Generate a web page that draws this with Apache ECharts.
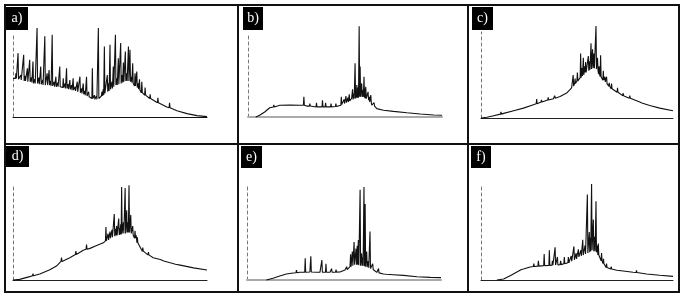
<!DOCTYPE html>
<html><head><meta charset="utf-8">
<script src="https://cdn.jsdelivr.net/npm/echarts@6/dist/echarts.min.js"></script>
<style>html,body{margin:0;padding:0;background:#fff}#c{width:686px;height:299px}</style>
</head><body><div id="c"></div><script>
// Panel labels
const panelLabels = ['a)', 'b)', 'c)', 'd)', 'e)', 'f)'];

// Each panel: smooth envelope [x, y] (x 0-100 along the axis, y 0-100 of axis height)
// and spikes [x, foot, peak]
const baseA = [[0,46],[3.4,44],[6.9,42],[10.3,40],[15.5,38],[20.7,37],[25.9,35],[31,32],[36.2,27],[39.7,23],[42.2,21],[44.8,24],[48.3,29],[51.7,36],[55.2,40],[57.8,44],[60.3,42],[62.9,37],[65.5,31],[69,25],[72.4,20],[75.9,15],[79.3,12],[84.5,7.5],[89.7,4],[94.8,1.6],[100,0.4]];
const spikesA = [[2.6,45,76],[5.5,43,74],[7.4,42,58],[8.6,42,68],[10.3,40,66],[12.4,40,106],[14.3,39,60],[16.4,38,96],[17.6,38,52],[18.6,38,56],[20.2,37,98],[22.1,36,48],[24.1,36,60],[25.9,35,46],[27.6,34,58],[29.3,33,44],[31,32,46],[33.1,30,42],[34.5,29,48],[36.2,27,40],[37.9,25,48],[40.9,22,58],[44,22,106],[47.1,28,84],[48.6,30,50],[50,33,86],[51.7,36,60],[52.8,38,98],[54.3,39,70],[55.5,40,88],[56.9,42,65],[57.9,43,78],[59.5,43,84],[60.3,42,80],[61.7,40,64],[62.9,37,52],[63.8,35,54],[65.2,32,45],[66.4,29,42],[68.1,26,35],[70.7,22,27],[74.7,17,23],[80.7,11,17],
  [1.5,46,52],[4,44,50],[6.2,43,49],[9.5,41,47],[11.2,40,45],[13.3,39,47],[15.3,38,44],[19.4,37,43],[21.2,36,42],[23,36,41],[26.8,34,40],[28.4,33,39],[30.2,32,38],[32,31,36],[35.3,28,34],[37,26,31],[39,24,30],[42,21,26],[43,21,25],[45.8,25,30],[46.5,26,33],[49.3,31,40],[51,34,42],[53.5,38,46],[56.3,41,50],[58.6,43,52],[61,41,48],[64.5,33,40]];

const baseB = [[4,0],[6,2],[8.6,6],[11.2,11],[13.8,12.7],[16.4,14],[21.6,14.3],[26.7,14],[30.2,13],[35.3,12],[40.5,12],[45.7,12.5],[48.3,15],[50.9,19],[53.4,22],[56,24],[58.6,24],[61.2,21],[63.8,14],[66.4,10],[69.8,8],[75,6.7],[81.9,5],[88.8,3.6],[95.7,2.4],[100,2]];
const spikesB = [[13.3,12,14.5],[28.8,14,24],[31.9,13,16],[35.3,12,17],[38.4,12,20],[40,12,17],[42.8,12,16],[45.3,12.5,16],[48.1,14,24],[50.5,17,25],[52.2,19,27],[53.9,21,33],[55.2,22,64],[56.1,23,38],[57.3,24,108],[57.8,24,60],[58.6,24,40],[59.8,23,48],[60.7,22,36],[61.9,20,30],[63.3,17,26],[65,13,17],
  [49.5,16,21],[51.5,18,23],[54.5,22,28],[55.7,23,30],[56.7,23,35],[59.2,24,32],[60.3,23,34],[62.5,18,24]];

const baseC = [[0,0],[3.1,0.8],[6.6,2.7],[11.8,5.4],[17,8.5],[22.1,11.5],[27.3,15.4],[32.5,19.2],[37.7,22.3],[41.2,25],[44.6,29],[47.2,35],[49.8,42],[52.4,48],[55,54],[57.6,58],[59.3,58],[61,53],[62.8,46],[65.4,40],[68.9,33],[72.3,28.5],[77.5,23],[82.7,18.5],[87.9,14.6],[93.1,11.5],[100,8.5]];
const spikesC = [[10.4,4.5,7],[29,16.5,22],[31.5,18.5,21],[35,21,24],[38.4,23,26],[48,37,50],[50.2,43,53],[51.9,47,75],[53.3,50,70],[54.5,53,65],[55.9,55,72],[57.3,57,87],[58.1,58,80],[58.8,58,75],[59.9,57,107],[60.7,55,70],[62.3,48,73],[63.7,44,55],[65.4,40,48],[68,34,40],[71.1,30,35],[77.5,23,26],
  [49,40,46],[52.6,49,58],[54,52,60],[56.5,56,66],[61.5,51,60],[64.5,42,48],[66.8,37,41],[74,26,29],[84,17.5,19.5]];

const baseD = [[0,0],[3.4,0.7],[8.6,3.6],[13.8,6.4],[19,11],[22.4,15],[25.9,21],[29.3,24],[32.8,28],[36.2,32],[39.7,34],[43.1,37],[46.6,40],[50,45],[53.4,48],[56.9,50],[59.5,51],[62.1,47],[64.7,38],[67.2,30],[70.7,26],[75.9,22],[81,18.5],[86.2,16],[93.1,13],[100,10.7]];
const spikesD = [[10.3,4.5,7],[25,20,24],[32.4,27.5,31],[37.9,33,38],[47.9,42,57],[50,45,52],[52.2,47,71],[53.4,48,58],[54.5,48.5,66],[55.5,49,60],[56,50,100],[56.9,50,62],[57.8,50,99],[58.6,51,75],[59.8,51,102],[60.7,50,70],[61.7,48,58],[62.9,45,53],[64.1,40,46],[66.9,31,35],[69.8,27,30],
  [49,43,50],[51,46,54],[53,47,55],[55,49,56],[59.2,51,62],[63.5,43,48],[72.5,24,26],[78,20.5,22.5],[84,17,19]];

const baseE = [[10,0],[13.4,1.8],[16.9,4.2],[20.3,6.3],[23.8,7.4],[27.2,8.1],[32.4,8.4],[37.6,8.1],[42.8,8.1],[47.9,8.4],[50.5,10.5],[53.1,14],[55.7,15.8],[58.3,15],[60.9,14],[63.4,12],[66.9,8],[70.3,6.3],[75.5,5.6],[80.7,4.9],[87.6,3.5],[94.5,2.8],[100,2.5]];
const spikesE = [[25.5,7.7,10.5],[30,8.2,23],[32.9,8.4,25],[36.2,8.2,9.5],[38.6,8.1,21],[40.7,8.1,17],[43.6,8.2,12],[45.9,8.3,11],[51.4,11,14],[53.4,14,27],[55.2,16,40],[56.2,16,33],[57.4,15.5,42],[58.3,15,95],[59.1,15,28],[60.3,14.5,98],[60.9,14,80],[61.7,13.5,30],[63.4,12,51],[64.8,11,17],[67.8,7.5,12],[72.1,6,7.5],[75.5,5.6,6.5],
  [54.3,15,30],[56.8,16,36],[59.6,15,24],[62.5,13,20]];

const baseF = [[8.3,0],[11.8,1],[15.2,4.5],[18.7,8.4],[22.1,11.5],[25.6,13.6],[30.8,14.6],[36,15.3],[41.2,16],[44.6,17.4],[48.1,21],[51.6,25],[55,28],[57.6,31],[60.2,28],[62.8,20],[65.4,13],[68.9,11],[74,9.4],[79.2,8],[86.2,6.3],[93.1,4.9],[100,3.8]];
const spikesF = [[21.3,11,13],[29.9,14.5,20],[32.9,15,27],[35.6,15.2,31],[38.6,15.6,34],[39.8,15.8,24],[43.4,17,24],[45.5,18,24],[48.4,21,35],[50.7,24,32],[53,26,42],[54.2,27,36],[55.4,28,89],[56.4,29,50],[57.6,31,100],[58.5,30,63],[59.9,29,82],[61.1,26,38],[62.8,20,28],[65.4,13,17],[67.8,11.5,14],[81,7.8,10],
  [27.5,14,17],[37.2,15.4,20],[41.5,16,20],[47,19.5,25],[49.5,22,28],[52,25,31],[56.9,30,44],[59.2,30,45],[60.6,28,36],[63.8,17,22],[71,10.2,12]];

const bases = [baseA, baseB, baseC, baseD, baseE, baseF];
const spikes = [spikesA, spikesB, spikesC, spikesD, spikesE, spikesF];

// Layout (pixels)
const grids = [
  {left: 13, top: 33, width: 194, height: 84},
  {left: 248, top: 33, width: 194, height: 84},
  {left: 481, top: 32, width: 192, height: 86},
  {left: 13, top: 187, width: 194, height: 93},
  {left: 247, top: 185, width: 194, height: 95},
  {left: 481, top: 184, width: 192, height: 96}
];
const xAxisStyle = [
  {color: '#111', width: 1}, {color: '#aaa', width: 2}, {color: '#222', width: 1},
  {color: '#222', width: 1}, {color: '#aaa', width: 2}, {color: '#222', width: 1}
];
const labelBoxes = [
  {x: 6, y: 7, w: 22, h: 23}, {x: 243, y: 7, w: 20, h: 23}, {x: 472, y: 7, w: 21, h: 23},
  {x: 6, y: 146, w: 23, h: 21}, {x: 241, y: 146, w: 21, h: 22}, {x: 471, y: 146, w: 20, h: 22}
];

function merge(base, sp) {
  const pts = base.map(p => [p[0], p[1]]);
  sp.forEach(([x, f, p]) => { pts.push([x - 0.25, f], [x, p], [x + 0.25, f]); });
  pts.sort((a, b) => a[0] - b[0]);
  return pts;
}

const chart = echarts.init(document.getElementById('c'), null, {renderer: 'canvas'});
const option = {
  animation: false,
  backgroundColor: '#fff',
  grid: grids.map(g => Object.assign({containLabel: false}, g)),
  xAxis: grids.map((g, i) => ({
    type: 'value', gridIndex: i, min: 0, max: 100,
    axisLine: {show: true, onZero: false, lineStyle: xAxisStyle[i]},
    axisTick: {show: false}, axisLabel: {show: false}, splitLine: {show: false}
  })),
  yAxis: grids.map((g, i) => ({
    type: 'value', gridIndex: i, min: 0, max: 100,
    axisLine: {show: true, lineStyle: {color: '#777', width: 1, type: [3, 3]}},
    axisTick: {show: false}, axisLabel: {show: false}, splitLine: {show: false}
  })),
  series: bases.map((b, i) => ({
    type: 'line', xAxisIndex: i, yAxisIndex: i, clip: false,
    data: merge(b, spikes[i]), showSymbol: false, symbol: 'none',
    lineStyle: {color: '#111', width: 1.1}
  })),
  graphic: [
    {type: 'rect', shape: {x: 5, y: 5, width: 674, height: 287}, style: {fill: 'none', stroke: '#111', lineWidth: 2}},
    {type: 'line', shape: {x1: 5, y1: 144, x2: 679, y2: 144}, style: {stroke: '#111', lineWidth: 2}},
    {type: 'line', shape: {x1: 238, y1: 5, x2: 238, y2: 292}, style: {stroke: '#111', lineWidth: 2}},
    {type: 'line', shape: {x1: 468, y1: 5, x2: 468, y2: 292}, style: {stroke: '#111', lineWidth: 2}}
  ].concat(labelBoxes.map((b, i) => ({
    type: 'group', children: [
      {type: 'rect', shape: {x: b.x, y: b.y, width: b.w, height: b.h}, style: {fill: '#000'}},
      {type: 'text', x: b.x + b.w / 2, y: b.y + b.h / 2,
       style: {text: panelLabels[i], fill: '#fff', fontFamily: 'Liberation Serif', fontSize: 14, align: 'center', verticalAlign: 'middle'}}
    ]
  })))
};
chart.setOption(option);
</script></body></html>
